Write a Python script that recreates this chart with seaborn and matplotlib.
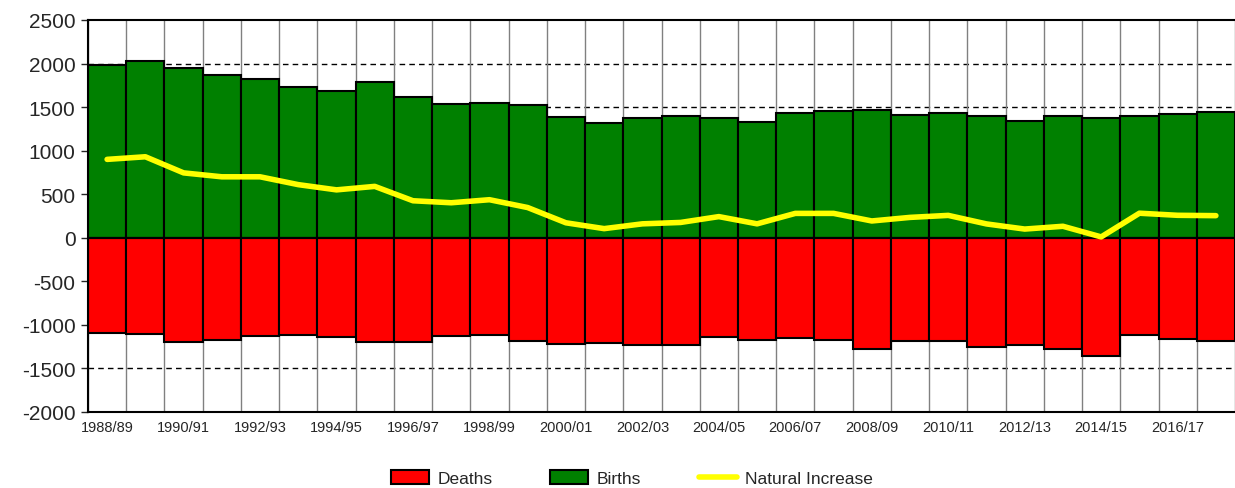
import numpy as np
import pandas as pd
import matplotlib
matplotlib.use("Agg")
import matplotlib.pyplot as plt
import seaborn as sns
from matplotlib.patches import Patch
from matplotlib.lines import Line2D

years = ["1988/89", "1989/90", "1990/91", "1991/92", "1992/93", "1993/94",
         "1994/95", "1995/96", "1996/97", "1997/98", "1998/99", "1999/00",
         "2000/01", "2001/02", "2002/03", "2003/04", "2004/05", "2005/06",
         "2006/07", "2007/08", "2008/09", "2009/10", "2010/11", "2011/12",
         "2012/13", "2013/14", "2014/15", "2015/16", "2016/17", "2017/18"]
births = [1985, 2030, 1945, 1865, 1820, 1730, 1688, 1790, 1619, 1535,
          1546, 1527, 1384, 1316, 1377, 1400, 1373, 1331, 1430, 1450,
          1470, 1405, 1432, 1400, 1343, 1397, 1377, 1397, 1416, 1442]
deaths = [-1091, -1106, -1202, -1171, -1133, -1121, -1144, -1202, -1194, -1133,
          -1113, -1186, -1217, -1209, -1228, -1236, -1136, -1179, -1156, -1175,
          -1282, -1182, -1182, -1251, -1236, -1274, -1362, -1121, -1163, -1190]
natural = [900, 930, 745, 700, 700, 610, 550, 590, 425, 402,
           437, 347, 172, 105, 160, 176, 243, 160, 280, 280,
           193, 234, 257, 159, 100, 132, 10, 282, 258, 254]
yticks = [-2000, -1500, -1000, -500, 0, 500, 1000, 1500, 2000, 2500]

df = pd.DataFrame({"year": years, "births": births, "deaths": deaths, "natural": natural})
n = len(years)

sns.set_style("white")
plt.rcParams["font.family"] = ["Liberation Sans", "DejaVu Sans"]

fig = plt.figure(figsize=(12.35, 4.89), dpi=100)
ax = fig.add_axes([88 / 1235, 76 / 489, 1 - 88 / 1235, 392 / 489])

# dashed grid behind everything
for y in yticks[1:-1]:
    ax.axhline(y, color="black", ls=(0, (4, 3)), lw=1, zorder=0)
# thin separators between the bar slots
for b in np.arange(n + 1) - 0.5:
    ax.axvline(b, color="#808080", lw=1, zorder=0.5)

sns.barplot(data=df, x="year", y="births", color="#008000", width=1.0,
            edgecolor="black", linewidth=1.5, saturation=1, ax=ax, zorder=2)
sns.barplot(data=df, x="year", y="deaths", color="#FF0000", width=1.0,
            edgecolor="black", linewidth=1.5, saturation=1, ax=ax, zorder=2)
sns.lineplot(x=np.arange(n), y=df["natural"], color="#FFFF00", lw=4,
             ax=ax, zorder=3, solid_capstyle="round")

ax.set_xlim(-0.5, n - 0.5)
ax.set_ylim(-2000, 2500)
ax.set_yticks(yticks)
ax.set_yticklabels([str(v) for v in yticks], fontsize=15)
ax.set_xticks(np.arange(0, n, 2))
ax.set_xticklabels(years[::2], fontsize=10.5)
ax.tick_params(axis="x", length=0, pad=6)
ax.tick_params(axis="y", length=5, width=1, direction="out", left=True, pad=4)
ax.set_xlabel("")
ax.set_ylabel("")
for s in ["top", "left", "bottom"]:
    ax.spines[s].set_color("black")
    ax.spines[s].set_linewidth(1.5)
ax.spines["right"].set_visible(False)
ax.axhline(0, color="black", lw=1.5, zorder=2.5)

handles = [Patch(facecolor="#FF0000", edgecolor="black", lw=1.5, label="Deaths"),
           Patch(facecolor="#008000", edgecolor="black", lw=1.5, label="Births"),
           Line2D([0], [0], color="#FFFF00", lw=4, label="Natural Increase")]
fig.legend(handles=handles, loc="center", bbox_to_anchor=(632 / 1235, 10 / 489),
           ncol=3, frameon=False, fontsize=12.5, handlelength=2.2, handleheight=0.9,
           handletextpad=0.5, columnspacing=3.3)

fig.savefig("out.png", dpi=100)
